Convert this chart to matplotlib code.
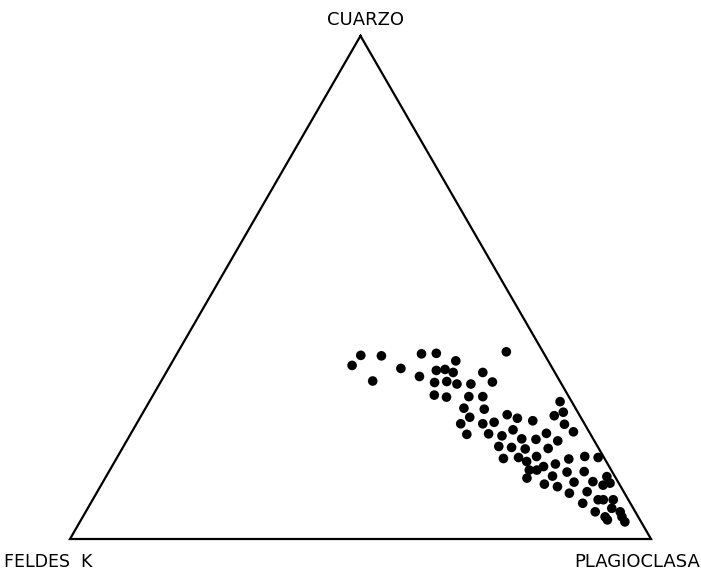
import numpy as np
import matplotlib
matplotlib.use("Agg")
import matplotlib.pyplot as plt

# Modal composition (%): Q = cuarzo, P = plagioclasa
# (feldespato K is the remainder)
cuarzo = [36.5, 36.4, 34.5, 31.4, 33.9, 36.8, 36.9, 32.3, 33.5, 31.1,
          28.6, 37.2, 35.4, 33.7, 33.1, 33.1, 31.2, 31.3, 30.8, 30.8,
          28.2, 28.3, 28.3, 26.0, 25.8, 24.2, 24.7, 24.0, 22.9, 22.9,
          23.5, 23.2, 20.8, 20.9, 20.5, 21.7, 19.9, 19.8, 18.4, 18.2,
          17.9, 16.0, 16.2, 16.4, 27.3, 25.2, 24.5, 22.8, 21.3, 21.0,
          19.5, 18.0, 15.9, 16.4, 16.2, 14.9, 14.4, 15.4, 13.7, 12.1,
          13.7, 12.5, 13.3, 10.9, 10.4, 11.3, 13.4, 11.4, 9.1, 9.4,
          7.1, 5.4, 7.8, 12.4, 11.1, 10.7, 7.8, 7.8, 4.4, 6.1,
          5.4, 3.4, 4.4, 3.8]
plagioclasa = [31.8, 35.4, 31.3, 36.4, 40.0, 42.1, 44.6, 44.0, 46.3, 47.2,
               48.4, 56.5, 48.7, 47.7, 49.4, 54.5, 57.1, 49.2, 51.2, 53.6,
               50.7, 54.5, 56.9, 54.8, 58.4, 56.7, 62.9, 65.0, 55.8, 59.6,
               67.9, 61.4, 57.9, 61.6, 64.1, 65.4, 67.8, 70.3, 64.6, 66.9,
               69.4, 66.6, 69.1, 72.1, 70.7, 72.3, 71.1, 73.7, 76.0, 71.5,
               74.2, 73.3, 77.9, 80.4, 82.8, 76.1, 74.3, 70.9, 72.2, 72.6,
               73.5, 76.8, 78.9, 76.2, 78.7, 81.1, 81.8, 84.3, 81.4, 84.3,
               84.7, 87.7, 87.0, 86.2, 87.4, 86.4, 87.9, 89.6, 89.9, 90.2,
               92.0, 93.8, 92.8, 90.6]

vertex_labels = ["CUARZO", "FELDES  K", "PLAGIOCLASA"]


def to_xy(q, p):
    q = np.asarray(q) / 100.0
    p = np.asarray(p) / 100.0
    return p + q / 2.0, q * np.sqrt(3) / 2.0


fig = plt.figure(figsize=(7.01, 5.73), dpi=100)
ax = fig.add_axes([0, 0, 1, 1])

# triangle outline
tx, ty = to_xy([100, 0, 0, 100], [0, 0, 100, 0])
ax.plot(tx, ty, color="black", linewidth=1.6, solid_joinstyle="miter")

x, y = to_xy(cuarzo, plagioclasa)
ax.scatter(x, y, s=48, color="black", edgecolors="none", zorder=3)

ax.text(0.508, 0.893, vertex_labels[0], ha="center", va="center", fontsize=13)
ax.text(-0.113, -0.040, vertex_labels[1], ha="left", va="center", fontsize=12.5)
ax.text(1.084, -0.039, vertex_labels[2], ha="right", va="center", fontsize=13)

ax.set_xlim(-70 / 581, 631 / 581)
ax.set_ylim(-34 / 581, 539 / 581)
ax.axis("off")

fig.savefig("out.png", dpi=100, facecolor="white")
